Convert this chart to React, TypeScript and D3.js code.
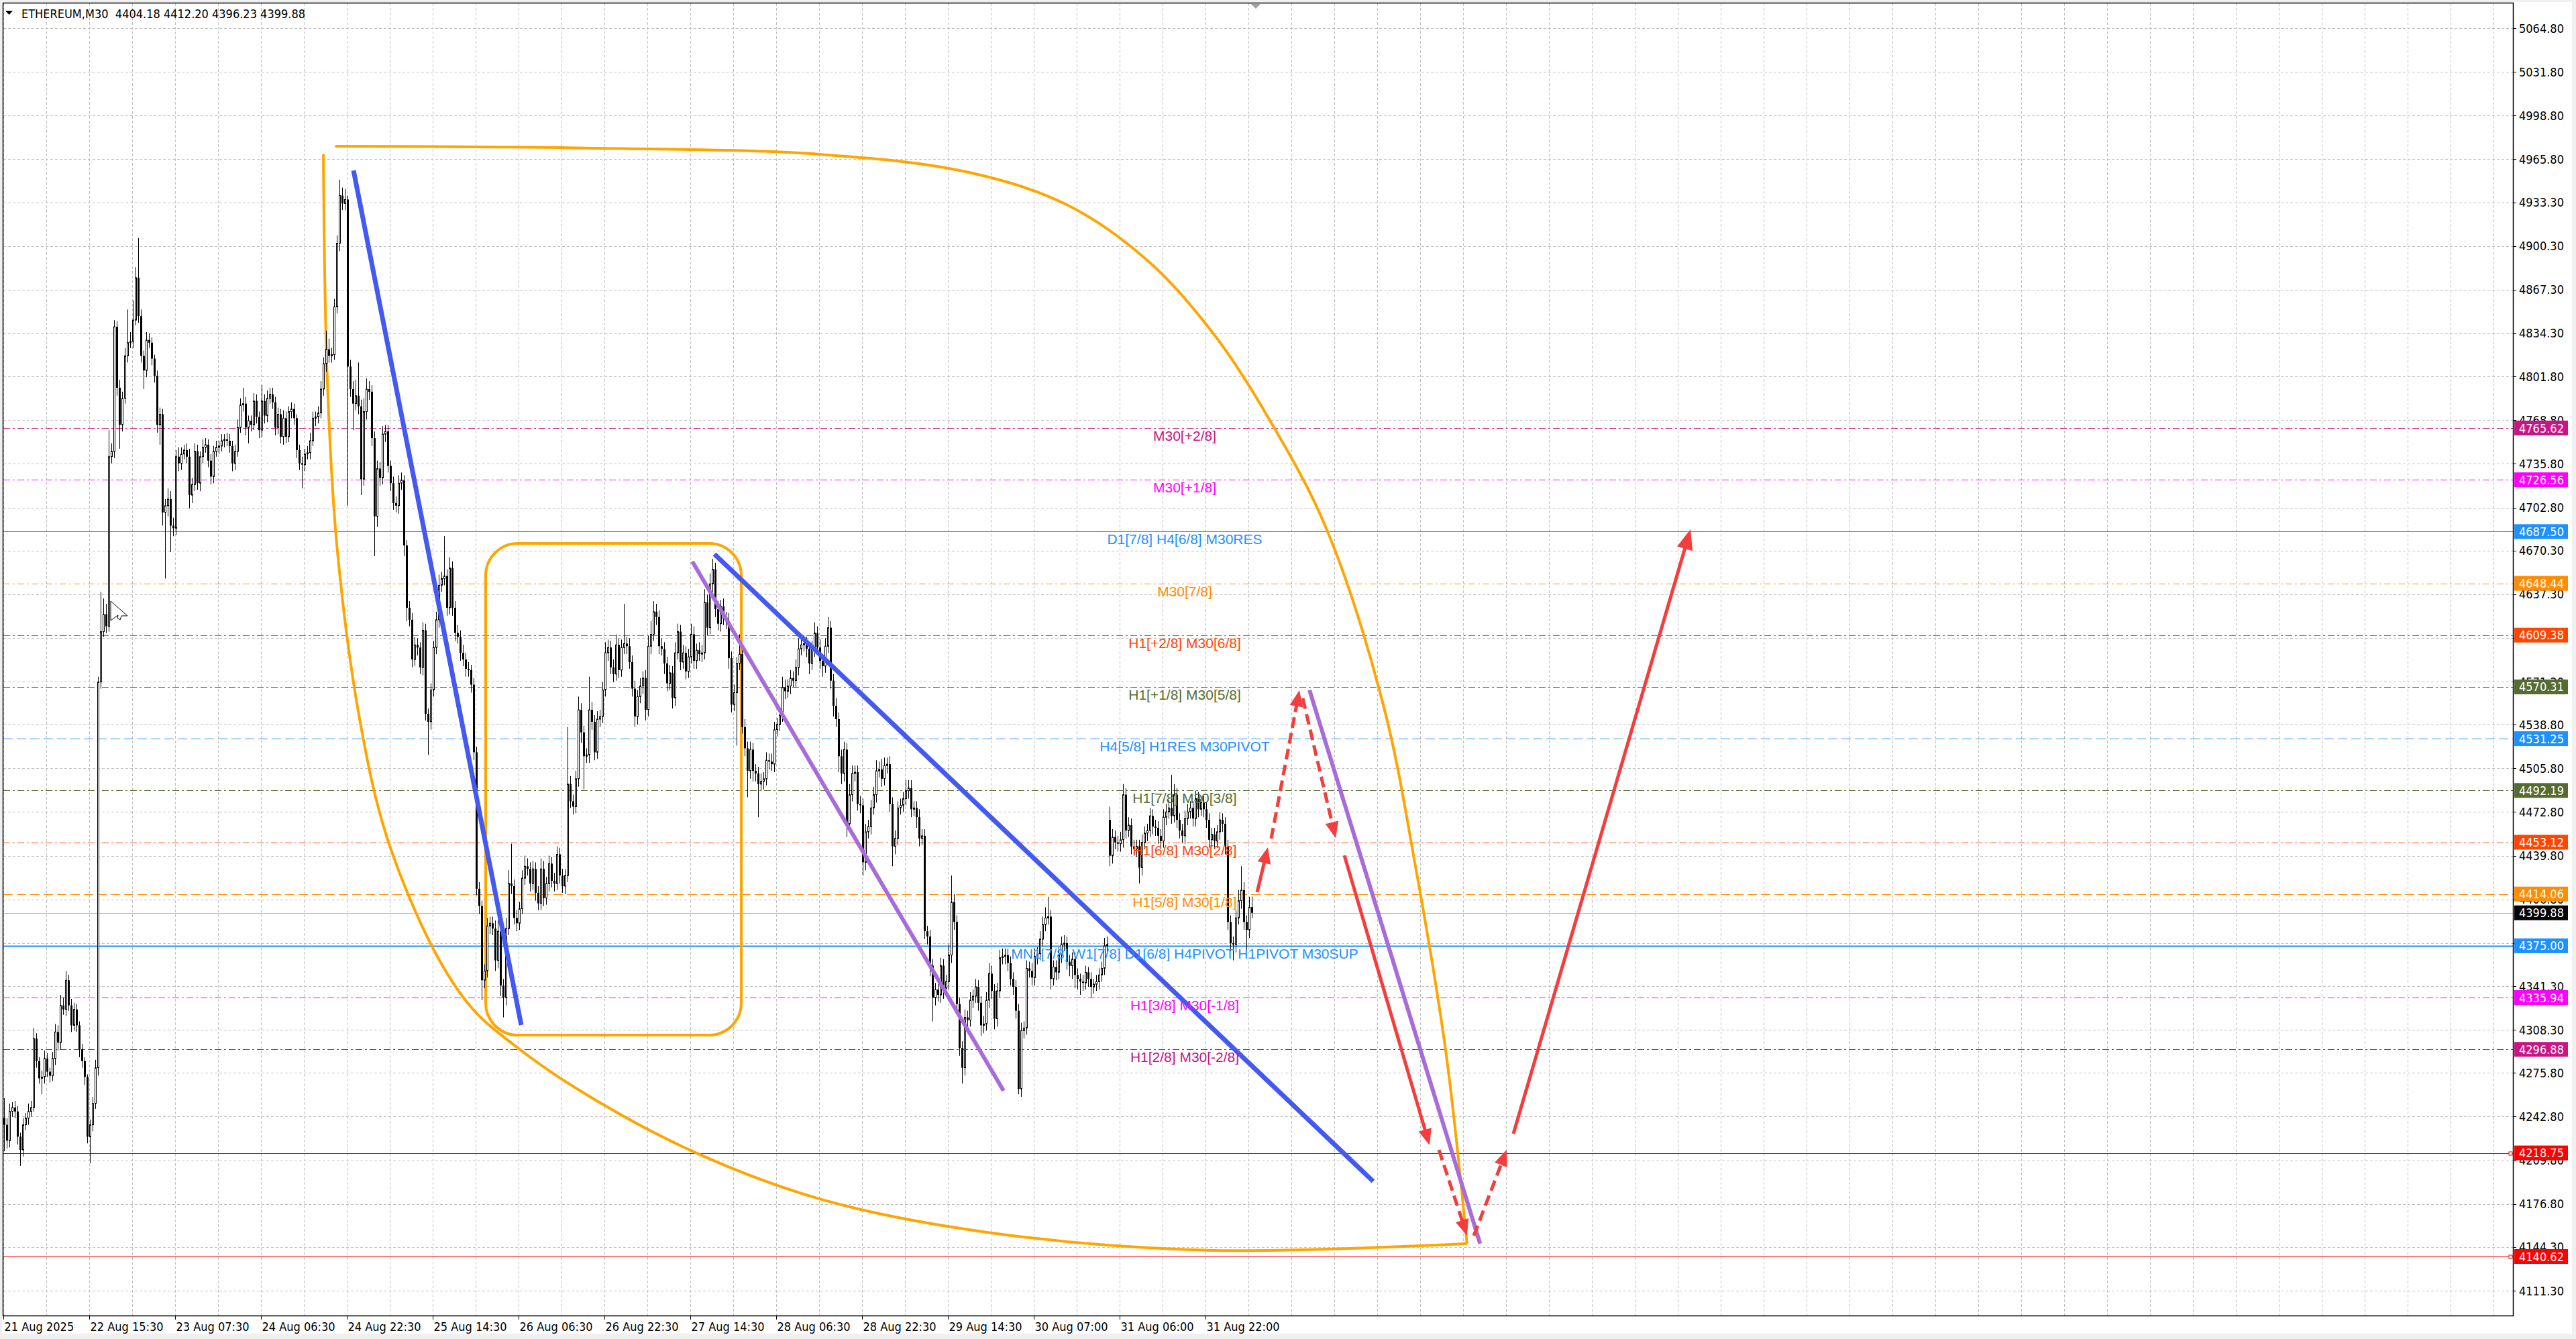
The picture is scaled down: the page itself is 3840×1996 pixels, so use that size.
import { useEffect } from "react";
import * as d3 from "d3";

// ETHEREUM M30 closes
const closes = [
  4240, 4228, 4250, 4253, 4250, 4231, 4221, 4240, 4245, 4250, 4253, 4305, 4288, 4275, 4276, 4290, 4280, 4277, 4290, 4310,
  4302, 4330, 4327, 4349, 4330, 4315, 4327, 4315, 4297, 4288, 4276, 4231, 4240, 4256, 4283, 4574, 4612, 4625, 4616, 4744,
  4748, 4842, 4796, 4768, 4788, 4820, 4830, 4831, 4847, 4879, 4850, 4820, 4809, 4832, 4830, 4818, 4805, 4768, 4776, 4702,
  4707, 4712, 4692, 4690, 4744, 4739, 4746, 4749, 4744, 4715, 4723, 4748, 4724, 4744, 4751, 4753, 4741, 4729, 4748, 4751,
  4752, 4756, 4757, 4756, 4752, 4739, 4748, 4766, 4783, 4784, 4766, 4771, 4768, 4786, 4774, 4764, 4786, 4775, 4788, 4791,
  4785, 4766, 4776, 4759, 4773, 4759, 4778, 4780, 4773, 4749, 4739, 4738, 4746, 4747, 4756, 4773, 4774, 4777, 4795, 4814,
  4825, 4820, 4821, 4857, 4905, 4941, 4935, 4938, 4812, 4795, 4784, 4790, 4782, 4727, 4778, 4795, 4793, 4758, 4699, 4735,
  4728, 4761, 4763, 4737, 4724, 4709, 4707, 4724, 4726, 4677, 4630, 4621, 4591, 4602, 4600, 4585, 4613, 4550, 4544, 4568,
  4600, 4621, 4647, 4652, 4654, 4630, 4660, 4630, 4611, 4608, 4596, 4591, 4584, 4583, 4572, 4521, 4418, 4405, 4349, 4356,
  4390, 4392, 4388, 4364, 4386, 4345, 4336, 4388, 4422, 4420, 4396, 4392, 4403, 4426, 4435, 4433, 4422, 4433, 4415, 4407,
  4433, 4411, 4422, 4437, 4424, 4422, 4444, 4428, 4420, 4428, 4497, 4484, 4480, 4501, 4553, 4536, 4518, 4519, 4553, 4544,
  4521, 4546, 4548, 4568, 4596, 4600, 4585, 4580, 4602, 4583, 4600, 4603, 4601, 4589, 4569, 4548, 4563, 4571, 4577, 4553,
  4601, 4610, 4627, 4623, 4601, 4599, 4588, 4573, 4581, 4562, 4596, 4612, 4589, 4596, 4582, 4593, 4610, 4590, 4598, 4595,
  4596, 4634, 4615, 4648, 4659, 4629, 4618, 4631, 4622, 4620, 4592, 4557, 4566, 4588, 4595, 4540, 4524, 4507, 4523, 4507,
  4505, 4497, 4499, 4501, 4515, 4514, 4512, 4538, 4542, 4549, 4570, 4567, 4571, 4577, 4575, 4585, 4599, 4602, 4603, 4599,
  4588, 4599, 4611, 4600, 4590, 4586, 4601, 4615, 4575, 4556, 4546, 4518, 4505, 4523, 4467, 4489, 4505, 4506, 4482, 4481,
  4438, 4461, 4465, 4479, 4489, 4507, 4508, 4501, 4511, 4512, 4482, 4450, 4456, 4479, 4481, 4486, 4492, 4494, 4478, 4479,
  4472, 4456, 4458, 4386, 4382, 4360, 4336, 4342, 4338, 4360, 4343, 4348, 4368, 4408, 4393, 4331, 4298, 4283, 4321, 4319,
  4334, 4337, 4344, 4332, 4315, 4316, 4334, 4354, 4341, 4320, 4341, 4366, 4367, 4368, 4362, 4350, 4344, 4326, 4267, 4311,
  4313, 4358, 4356, 4351, 4367, 4369, 4380, 4391, 4396, 4397, 4350, 4359, 4355, 4368, 4376, 4377, 4363, 4360, 4365, 4353,
  4350, 4348, 4347, 4355, 4350, 4344, 4346, 4348, 4353, 4358, 4375, 4376, 4443, 4457, 4453, 4452, 4455, 4489, 4462, 4466,
  4450, 4448, 4450, 4434, 4453, 4460, 4462, 4473, 4465, 4464, 4458, 4454, 4472, 4476, 4479, 4473, 4489, 4470, 4462, 4458,
  4471, 4476, 4479, 4471, 4486, 4478, 4483, 4478, 4470, 4455, 4459, 4454, 4461, 4470, 4467, 4450, 4393, 4377, 4376, 4396,
  4409, 4417, 4393, 4387, 4404, 4399.88,
];

// upper / lower shadow length in points
const upWick = [
  15, 5, 6, 4, 5, 4, 3, 5, 4, 6, 5, 8, 4, 3, 5, 6, 4, 3, 5, 6,
  5, 8, 6, 7, 4, 5, 5, 4, 3, 4, 3, 2, 4, 5, 6, 4, 30, 12, 8, 20,
  6, 5, 4, 6, 5, 6, 25, 7, 15, 8, 30, 5, 4, 6, 5, 4, 3, 4, 5, 4,
  5, 8, 6, 6, 5, 7, 5, 4, 5, 6, 5, 6, 5, 4, 6, 5, 4, 5, 4, 5,
  4, 5, 4, 5, 5, 4, 5, 6, 5, 12, 5, 4, 4, 6, 5, 4, 12, 5, 6, 5,
  5, 4, 5, 4, 6, 5, 4, 5, 4, 3, 4, 5, 4, 5, 6, 5, 4, 5, 6, 5,
  14, 8, 5, 6, 6, 12, 6, 8, 3, 5, 6, 12, 25, 5, 10, 8, 6, 5, 5, 6,
  5, 6, 5, 5, 4, 5, 5, 6, 6, 4, 4, 5, 5, 6, 5, 4, 6, 5, 4, 5,
  5, 6, 8, 5, 30, 5, 8, 5, 5, 6, 5, 6, 5, 5, 4, 5, 4, 5, 4, 5,
  6, 5, 5, 6, 8, 5, 5, 8, 10, 30, 5, 6, 5, 6, 8, 6, 5, 6, 5, 5,
  8, 6, 5, 6, 5, 6, 6, 5, 5, 5, 43, 6, 5, 6, 10, 5, 5, 5, 25, 6,
  5, 6, 5, 6, 8, 6, 5, 6, 8, 5, 6, 30, 5, 6, 5, 6, 5, 6, 5, 6,
  8, 10, 8, 6, 5, 6, 5, 5, 6, 5, 8, 6, 5, 6, 5, 6, 8, 6, 5, 6,
  6, 10, 6, 8, 8, 5, 6, 5, 6, 5, 6, 5, 6, 5, 15, 4, 6, 5, 6, 5,
  5, 5, 6, 5, 6, 5, 6, 6, 5, 6, 8, 6, 5, 6, 5, 6, 8, 5, 6, 5,
  5, 6, 8, 5, 6, 5, 6, 8, 5, 5, 6, 5, 5, 6, 5, 8, 6, 5, 5, 6,
  5, 6, 5, 6, 6, 8, 6, 8, 6, 5, 6, 5, 6, 5, 5, 5, 8, 6, 6, 5,
  5, 6, 5, 5, 4, 5, 5, 5, 4, 6, 5, 5, 8, 20, 6, 5, 5, 5, 6, 5,
  6, 5, 6, 5, 5, 6, 6, 8, 6, 5, 6, 6, 6, 5, 5, 5, 5, 5, 5, 6,
  5, 6, 5, 6, 6, 5, 6, 6, 8, 15, 5, 5, 5, 6, 6, 6, 5, 5, 5, 5,
  5, 4, 5, 5, 4, 5, 4, 5, 5, 5, 6, 6, 10, 6, 5, 5, 6, 8, 5, 6,
  5, 5, 5, 5, 6, 5, 5, 6, 5, 5, 5, 5, 6, 6, 6, 25, 8, 5, 5, 5,
  6, 6, 5, 5, 6, 5, 5, 5, 5, 5, 5, 5, 5, 6, 5, 5, 5, 5, 5, 6,
  8, 18, 6, 5, 8, 8,
];

const dnWick = [
  20, 6, 5, 4, 5, 6, 12, 5, 4, 5, 4, 3, 5, 4, 12, 5, 4, 5, 4, 5,
  6, 5, 4, 5, 4, 5, 4, 5, 6, 5, 6, 5, 20, 5, 4, 6, 5, 4, 5, 4,
  5, 5, 6, 18, 5, 4, 5, 4, 5, 4, 5, 5, 14, 5, 4, 5, 5, 6, 15, 10,
  50, 8, 20, 6, 5, 6, 5, 4, 5, 10, 6, 5, 5, 6, 5, 4, 5, 6, 5, 4,
  5, 4, 5, 4, 5, 6, 5, 4, 4, 5, 6, 12, 5, 4, 5, 6, 5, 6, 5, 4,
  5, 6, 5, 5, 6, 5, 4, 5, 5, 6, 5, 18, 5, 4, 5, 4, 6, 5, 4, 5,
  6, 5, 5, 4, 5, 6, 5, 5, 105, 6, 20, 5, 6, 12, 5, 6, 6, 6, 30, 8,
  6, 5, 6, 5, 6, 5, 5, 6, 5, 8, 10, 5, 6, 5, 6, 5, 6, 5, 25, 6,
  5, 5, 6, 5, 5, 6, 5, 6, 6, 5, 6, 5, 6, 5, 6, 6, 5, 6, 15, 6,
  5, 6, 5, 8, 6, 8, 15, 6, 5, 6, 5, 6, 5, 4, 5, 5, 6, 5, 6, 5,
  5, 6, 5, 6, 5, 6, 5, 6, 5, 6, 5, 5, 6, 5, 6, 8, 25, 5, 6, 6,
  6, 5, 6, 5, 5, 6, 5, 6, 5, 6, 5, 5, 6, 5, 6, 8, 6, 5, 6, 8,
  5, 6, 5, 6, 6, 5, 8, 6, 5, 8, 6, 5, 6, 5, 6, 5, 5, 6, 6, 5,
  6, 5, 6, 5, 6, 6, 5, 6, 5, 6, 8, 6, 5, 40, 5, 5, 6, 20, 6, 8,
  6, 25, 5, 6, 5, 6, 5, 6, 5, 5, 5, 6, 5, 6, 5, 5, 6, 5, 5, 6,
  8, 5, 6, 5, 6, 8, 5, 5, 6, 8, 6, 12, 8, 6, 10, 6, 5, 6, 5, 6,
  10, 6, 5, 6, 5, 6, 5, 6, 5, 6, 6, 15, 6, 5, 5, 5, 5, 6, 6, 5,
  8, 6, 5, 6, 6, 8, 18, 6, 5, 6, 8, 6, 6, 6, 6, 6, 6, 12, 6, 6,
  5, 6, 5, 6, 8, 6, 5, 6, 6, 8, 6, 5, 5, 6, 6, 5, 6, 6, 4, 6,
  6, 5, 5, 6, 6, 6, 5, 5, 5, 5, 8, 5, 6, 5, 6, 5, 6, 8, 10, 10,
  8, 10, 6, 5, 6, 8, 5, 5, 6, 5, 5, 5, 8, 6, 5, 6, 6, 6, 6, 5,
  6, 5, 6, 12, 6, 5, 6, 5, 6, 6, 6, 6, 5, 6, 5, 6, 5, 6, 6, 5,
  6, 5, 5, 6, 6, 6, 5, 6, 6, 6, 5, 6, 5, 6, 6, 6, 6, 6, 12, 6,
  5, 6, 6, 15, 6, 4,
];

// bars whose open is not the previous close (start, weekend gap, live bar)
const gapOpens = [[0, 4245], [412, 4470], [465, 4404.18]];

const timeLabels = [
  "21 Aug 2025", "22 Aug 15:30", "23 Aug 07:30", "24 Aug 06:30", "24 Aug 22:30",
  "25 Aug 14:30", "26 Aug 06:30", "26 Aug 22:30", "27 Aug 14:30", "28 Aug 06:30",
  "28 Aug 22:30", "29 Aug 14:30", "30 Aug 07:00", "31 Aug 06:00", "31 Aug 22:00",
];

const priceTicks = [
  5064.8, 5031.8, 4998.8, 4965.8, 4933.3, 4900.3, 4867.3, 4834.3, 4801.8, 4768.8,
  4735.8, 4702.8, 4670.3, 4637.3, 4604.3, 4571.3, 4538.8, 4505.8, 4472.8, 4439.8,
  4406.8, 4373.8, 4341.3, 4308.3, 4275.8, 4242.8, 4209.8, 4176.8, 4144.3, 4111.3,
];

// Murrey math levels
const levelPrices = [4765.62, 4726.56, 4687.5, 4648.44, 4609.38, 4570.31, 4531.25, 4492.19, 4453.12, 4414.06, 4375.0, 4335.94, 4296.88, 4218.75, 4140.62];
const levelNames = [
  "M30[+2/8]", "M30[+1/8]", "D1[7/8] H4[6/8] M30RES", "M30[7/8]", "H1[+2/8] M30[6/8]",
  "H1[+1/8] M30[5/8]", "H4[5/8] H1RES M30PIVOT", "H1[7/8] M30[3/8]", "H1[6/8] M30[2/8]",
  "H1[5/8] M30[1/8]", "MN1[7/8] W1[7/8] D1[6/8] H4PIVOT H1PIVOT M30SUP",
  "H1[3/8] M30[-1/8]", "H1[2/8] M30[-2/8]", "", "",
];
const levelKind = ["mvr", "mag", "blue", "org", "ored", "olive", "blueDash", "olive", "ored", "orgDash", "blueBold", "mag", "mvr", "red", "red"];

const lastPrice = 4399.88;
const header = "ETHEREUM,M30  4404.18 4412.20 4396.23 4399.88";

// hand drawn objects, [bar index, price]
const topArc = [
  [123.4, 4978.2], [212.8, 4976.9], [304.6, 4972.0], [359.7, 4958.4], [396.5, 4933.6], [427.1, 4890.2],
  [451.6, 4834.4], [471.8, 4771.2], [492.6, 4690.6], [514.0, 4556.8], [526.3, 4431.6], [537.3, 4295.3], [545.2, 4150.3],
];
const lowArc = [
  [119.0, 4972.1], [120.5, 4800.6], [124.3, 4671.4], [132.8, 4542.9], [142.7, 4456.9], [160.3, 4371.4], [174.2, 4328.4],
  [188.5, 4302.6], [212.8, 4268.0], [255.6, 4220.9], [304.6, 4183.7], [365.9, 4159.0], [448.5, 4145.3], [545.2, 4150.3],
];
const rangeBox = [[179.5, 4678.6], [274.75, 4307.6]];
const blueLines = [[[130.25, 4959.9], [192.75, 4315.2]], [[264.75, 4670.5], [510.25, 4197.3]]];
const purpleLines = [[[256.5, 4664.9], [372.5, 4265.6]], [[486.5, 4567.9], [550.1, 4150.3]]];
const redArrows = [
  { from: [467, 4415.4], to: [471, 4449.3], dashed: false },
  { from: [472.25, 4455.9], to: [482.75, 4567.7], dashed: true },
  { from: [484, 4561.7], to: [496.25, 4456.3], dashed: true },
  { from: [499.5, 4443.2], to: [531.25, 4224.6], dashed: false },
  { from: [534.75, 4221.1], to: [545.25, 4156.3], dashed: true },
  { from: [547.75, 4156.3], to: [560, 4221.1], dashed: true },
  { from: [562.5, 4233.2], to: [628.5, 4689.2], dashed: false },
];

const W = 3840;
const H = 1996;
const L = 5, R = 3746, T = 5, B = 1961;

const dashDot = "10,4,3,4";
const dashLong = "14,6";
const kindStyle = {
  mvr: { c: "#C71585", dash: dashDot, w: 1 },
  mag: { c: "#FF00FF", dash: dashDot, w: 1 },
  blue: { c: "#1E90FF", dash: null, w: 1 },
  org: { c: "#FF8C00", dash: dashDot, w: 1 },
  ored: { c: "#FF4500", dash: dashDot, w: 1 },
  olive: { c: "#556B2F", dash: dashDot, w: 1 },
  blueDash: { c: "#1E90FF", dash: dashLong, w: 1 },
  orgDash: { c: "#FF8C00", dash: dashLong, w: 1 },
  blueBold: { c: "#1E90FF", dash: null, w: 2 },
  red: { c: "#FF0000", dash: null, w: 1 },
};

const axisFont = "'DejaVu Sans Condensed', 'DejaVu Sans', sans-serif";
const textFont = "'Liberation Sans', Arial, sans-serif";
const RED = "#F43D3D";

export default function App() {
  useEffect(() => {
    document.body.style.margin = "0";
  }, []);

  const x = d3.scaleLinear().domain([0, 935]).range([6, 3746]);
  const y = d3.scaleLinear().domain([4140.62, 4765.62]).range([1873, 638]);
  // MT4 grid labels are rounded, so the grid has its own mapping
  const gy = d3.scaleLinear().domain([4111.3, 5064.8]).range([1924, 42]);

  const gapMap = new Map(gapOpens.map((g) => [g[0], g[1]]));
  const candles = closes.map((c, i) => {
    const o = gapMap.has(i) ? gapMap.get(i) : closes[i - 1];
    return { i, o, c, h: Math.max(o, c) + upWick[i], l: Math.min(o, c) - dnWick[i] };
  });

  const px = (p) => [x(p[0]), y(p[1])];
  const smooth = d3.line().curve(d3.curveCatmullRom.alpha(0.5));

  const vGrid = d3.range(0, 936, 16);

  const arrowHead = (a, b, len, half) => {
    const [x1, y1] = px(a);
    const [x2, y2] = px(b);
    const ang = Math.atan2(y2 - y1, x2 - x1);
    const bx = x2 - len * Math.cos(ang);
    const by = y2 - len * Math.sin(ang);
    const nx = -Math.sin(ang) * half;
    const ny = Math.cos(ang) * half;
    return {
      pts: `${x2},${y2} ${bx + nx},${by + ny} ${bx - nx},${by - ny}`,
      shaft: [x1, y1, bx + 4 * Math.cos(ang), by + 4 * Math.sin(ang)],
    };
  };

  return (
    <svg width={W} height={H} style={{ display: "block" }}>
      <defs>
        <clipPath id="plot">
          <rect x={L} y={T} width={R - L} height={B - T} />
        </clipPath>
      </defs>
      <rect x={0} y={0} width={W} height={H} fill="#F0F0F0" />
      <rect x={3} y={3} width={3831} height={1985} fill="#FFFFFF" />

      <g clipPath="url(#plot)">
        {/* grid */}
        {priceTicks.map((t) => (
          <line key={"h" + t} x1={L} x2={R} y1={Math.round(gy(t)) + 0.5} y2={Math.round(gy(t)) + 0.5} stroke="#C0C0C0" strokeDasharray="4,3" />
        ))}
        {vGrid.map((i) => (
          <line key={"v" + i} x1={Math.round(x(i)) - 0.5} x2={Math.round(x(i)) - 0.5} y1={T} y2={B} stroke="#C0C0C0" strokeDasharray="4,3" />
        ))}

        {/* levels */}
        {levelPrices.map((p, k) => {
          const s = kindStyle[levelKind[k]];
          const yy = Math.round(y(p)) + 0.5;
          return (
            <g key={"lv" + k}>
              <line x1={L} x2={R} y1={yy} y2={yy} stroke={s.c} strokeWidth={s.w} strokeDasharray={s.dash || undefined} />
              {levelKind[k] === "red" && <rect x={R - 6} y={yy - 2.5} width={5} height={5} fill="#FFFFFF" stroke={s.c} />}
            </g>
          );
        })}
        <line x1={L} x2={R} y1={Math.round(y(lastPrice)) + 0.5} y2={Math.round(y(lastPrice)) + 0.5} stroke="#B4B4B4" />

        {/* orange drawings */}
        <path d={smooth(topArc.map(px))} fill="none" stroke="#FFA500" strokeWidth={4} />
        <path d={smooth(lowArc.map(px))} fill="none" stroke="#FFA500" strokeWidth={4} />
        <rect
          x={x(rangeBox[0][0])}
          y={y(rangeBox[0][1])}
          width={x(rangeBox[1][0]) - x(rangeBox[0][0])}
          height={y(rangeBox[1][1]) - y(rangeBox[0][1])}
          rx={48}
          fill="none"
          stroke="#FFA500"
          strokeWidth={4}
        />

        {/* candles */}
        {candles.map((d) => {
          const cx = Math.round(x(d.i)) + 0.5;
          const top = y(Math.max(d.o, d.c));
          const bot = y(Math.min(d.o, d.c));
          const up = d.c >= d.o;
          return (
            <g key={"c" + d.i}>
              <line x1={cx} x2={cx} y1={y(d.h)} y2={y(d.l)} stroke="#000" />
              {up ? (
                <rect x={cx - 1} y={top} width={2} height={Math.max(bot - top, 1)} fill="#FFF" stroke="#000" />
              ) : (
                <rect x={cx - 1.5} y={top} width={3} height={Math.max(bot - top, 1)} fill="#000" />
              )}
            </g>
          );
        })}

        {/* mouse pointer left on the chart */}
        <polygon points="165,896 190,918 181,918 179,924 175,921 176,917 165,925" fill="#FFF" stroke="#000" />

        {/* trend lines */}
        {purpleLines.map((ln, k) => {
          const [a, b] = ln.map(px);
          return <line key={"pl" + k} x1={a[0]} y1={a[1]} x2={b[0]} y2={b[1]} stroke="#A86CD8" strokeWidth={6} />;
        })}
        {blueLines.map((ln, k) => {
          const [a, b] = ln.map(px);
          return <line key={"bl" + k} x1={a[0]} y1={a[1]} x2={b[0]} y2={b[1]} stroke="#4459F0" strokeWidth={7} />;
        })}

        {/* forecast arrows */}
        {redArrows.map((a, k) => {
          const big = k === redArrows.length - 1;
          const hd = arrowHead(a.from, a.to, big ? 30 : 24, big ? 12 : 10);
          const [x1, y1, x2, y2] = hd.shaft;
          return (
            <g key={"ra" + k}>
              <line x1={x1} y1={y1} x2={x2} y2={y2} stroke={RED} strokeWidth={5} strokeDasharray={a.dashed ? "16,8" : undefined} />
              <polygon points={hd.pts} fill={RED} />
            </g>
          );
        })}

        {/* level captions */}
        {levelPrices.map((p, k) =>
          levelNames[k] ? (
            <text key={"lt" + k} x={1766} y={y(p) + 19} textAnchor="middle" fontFamily={textFont} fontSize={21} fill={kindStyle[levelKind[k]].c}>
              {levelNames[k]}
            </text>
          ) : null
        )}
      </g>

      {/* chart frame */}
      <rect x={L - 0.5} y={T - 0.5} width={R - L + 1} height={B - T + 1} fill="none" stroke="#000" strokeWidth={1.5} />
      <polygon points={`${x(466.5) - 7},${T + 1} ${x(466.5) + 7},${T + 1} ${x(466.5)},${T + 8}`} fill="#A0A0A0" />

      {/* header */}
      <polygon points="8,16 19,16 13.5,22" fill="#000" />
      <text x={32} y={27} fontFamily={axisFont} fontSize={18} fill="#000" style={{ whiteSpace: "pre" }}>
        {header}
      </text>

      {/* price axis */}
      {priceTicks.map((t) => (
        <g key={"pt" + t}>
          <line x1={R} x2={R + 5} y1={Math.round(gy(t)) + 0.5} y2={Math.round(gy(t)) + 0.5} stroke="#000" />
          <text x={3755} y={gy(t) + 6.5} fontFamily={axisFont} fontSize={18} fill="#000">
            {t.toFixed(2)}
          </text>
        </g>
      ))}
      {levelPrices.map((p, k) => (
        <g key={"pb" + k}>
          <rect x={3748} y={y(p) - 11} width={80} height={22} fill={kindStyle[levelKind[k]].c} />
          <text x={3755} y={y(p) + 6.5} fontFamily={axisFont} fontSize={18} fill="#FFF">
            {p.toFixed(2)}
          </text>
        </g>
      ))}
      <rect x={3748} y={y(lastPrice) - 11} width={80} height={22} fill="#000" />
      <text x={3755} y={y(lastPrice) + 6.5} fontFamily={axisFont} fontSize={18} fill="#FFF">
        {lastPrice.toFixed(2)}
      </text>

      {/* time axis */}
      {timeLabels.map((lab, k) => {
        const tx = Math.round(x(k * 32)) - 0.5;
        return (
          <g key={"tl" + k}>
            <line x1={tx} x2={tx} y1={B} y2={B + 6} stroke="#000" />
            <text x={tx + 1} y={1984} fontFamily={axisFont} fontSize={18} fill="#000">
              {lab}
            </text>
          </g>
        );
      })}
    </svg>
  );
}
